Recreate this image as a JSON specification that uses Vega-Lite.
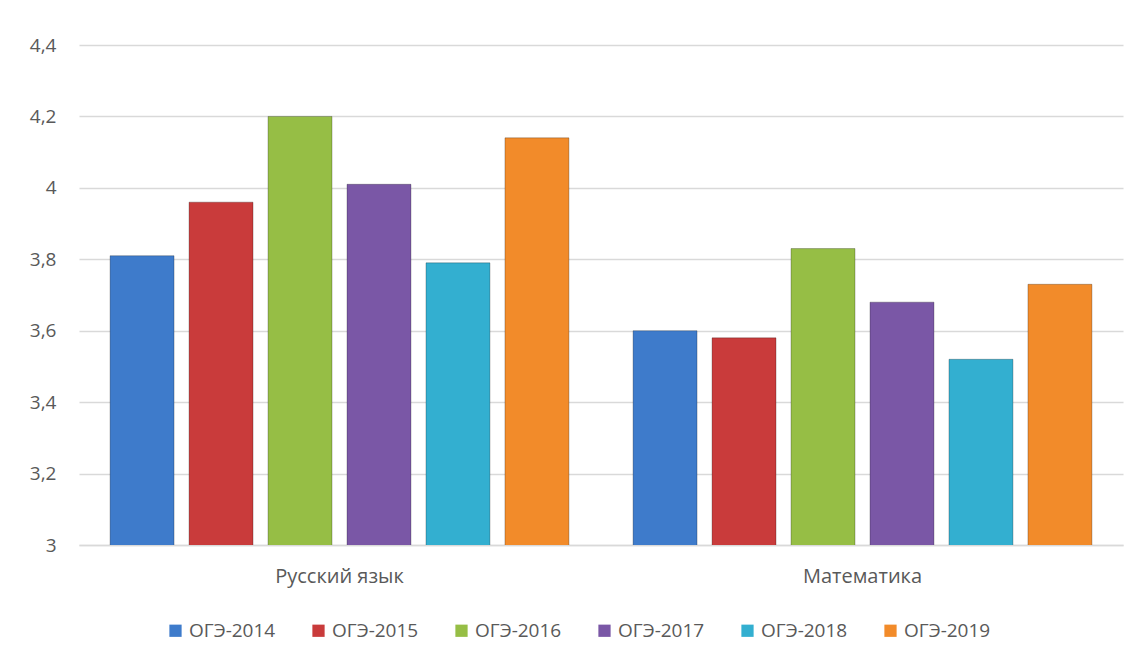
{
  "$schema": "https://vega.github.io/schema/vega-lite/v6.json",
  "autosize": {"type": "none"},
  "width": 1044,
  "height": 500,
  "padding": {"left": 79, "top": 45, "right": 17, "bottom": 116},
  "background": "white",
  "data": {
    "values": [
      {"subject": "Русский язык", "series": "ОГЭ-2014", "value": 3.81},
      {"subject": "Русский язык", "series": "ОГЭ-2015", "value": 3.96},
      {"subject": "Русский язык", "series": "ОГЭ-2016", "value": 4.2},
      {"subject": "Русский язык", "series": "ОГЭ-2017", "value": 4.01},
      {"subject": "Русский язык", "series": "ОГЭ-2018", "value": 3.79},
      {"subject": "Русский язык", "series": "ОГЭ-2019", "value": 4.14},
      {"subject": "Математика", "series": "ОГЭ-2014", "value": 3.6},
      {"subject": "Математика", "series": "ОГЭ-2015", "value": 3.58},
      {"subject": "Математика", "series": "ОГЭ-2016", "value": 3.83},
      {"subject": "Математика", "series": "ОГЭ-2017", "value": 3.68},
      {"subject": "Математика", "series": "ОГЭ-2018", "value": 3.52},
      {"subject": "Математика", "series": "ОГЭ-2019", "value": 3.73}
    ]
  },
  "mark": {"type": "bar", "clip": true, "stroke": "#00000040", "strokeWidth": 1},
  "encoding": {
    "x": {
      "field": "subject",
      "type": "nominal",
      "sort": ["Русский язык", "Математика"],
      "scale": {"paddingInner": 0.1226, "paddingOuter": 0.0594},
      "axis": {
        "title": null,
        "labelAngle": 0,
        "labelFont": "Open Sans",
        "labelFontSize": 20,
        "labelColor": "#595959",
        "labelPadding": 21,
        "ticks": false,
        "domainColor": "#D9D9D9",
        "domainWidth": 1.5
      }
    },
    "xOffset": {
      "field": "series",
      "type": "nominal",
      "scale": {"paddingInner": 0.19, "paddingOuter": 0}
    },
    "y": {
      "field": "value",
      "type": "quantitative",
      "scale": {"domain": [3, 4.4], "zero": false, "nice": false},
      "axis": {
        "title": null,
        "values": [3, 3.2, 3.4, 3.6, 3.8, 4, 4.2, 4.4],
        "labelExpr": "replace(format(datum.value, '.2~f'), '.', ',')",
        "labelFont": "Open Sans",
        "labelFontSize": 19,
        "labelColor": "#595959",
        "labelPadding": 23,
        "ticks": false,
        "domain": false,
        "gridColor": "#D9D9D9",
        "gridWidth": 1.5
      }
    },
    "color": {
      "field": "series",
      "type": "nominal",
      "scale": {
        "domain": ["ОГЭ-2014", "ОГЭ-2015", "ОГЭ-2016", "ОГЭ-2017", "ОГЭ-2018", "ОГЭ-2019"],
        "range": ["#3E7BCB", "#C93B3B", "#96BE45", "#7A57A6", "#33AFD0", "#F28B2A"]
      },
      "legend": {
        "title": null,
        "orient": "none",
        "legendX": 87,
        "legendY": 576,
        "direction": "horizontal",
        "columns": 6,
        "symbolType": "square",
        "symbolSize": 150,
        "symbolStrokeWidth": 0,
        "labelOffset": 4,
        "columnPadding": 33,
        "labelFont": "Open Sans",
        "labelFontSize": 19,
        "labelColor": "#595959"
      }
    }
  },
  "config": {"view": {"stroke": null}}
}
